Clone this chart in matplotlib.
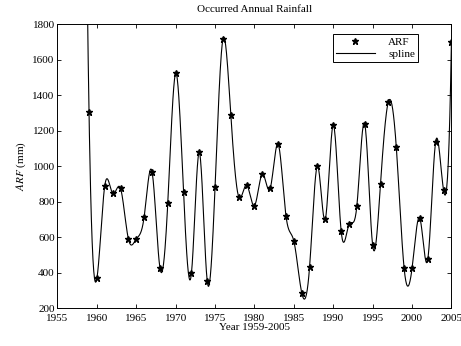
import numpy as np
import matplotlib
matplotlib.use("Agg")
import matplotlib.pyplot as plt

plt.rcParams['font.family'] = ['Liberation Serif', 'DejaVu Serif']
plt.rcParams['mathtext.fontset'] = 'stix'

# annual rainfall, 1959-2005
years = np.arange(1959, 2006)
arf = [1306, 367, 889, 846, 874, 589, 589, 714, 968, 427,
       793, 1522, 852, 395, 1077, 354, 884, 1714, 1287, 827,
       893, 776, 955, 874, 1124, 720, 577, 286, 433, 1001,
       701, 1231, 636, 671, 776, 1237, 555, 899, 1362, 1109,
       423, 423, 705, 474, 1137, 865, 1697]

xticks = [1955, 1960, 1965, 1970, 1975, 1980, 1985, 1990, 1995, 2000, 2005]
yticks = [200, 400, 600, 800, 1000, 1200, 1400, 1600, 1800]


def notaknot_spline(x, y, xx):
    # cubic spline with not-a-knot ends (unit spacing), like matlab spline()
    y = np.asarray(y, dtype=float)
    n = len(y)
    A = np.zeros((n, n))
    rhs = np.zeros(n)
    A[0, 0:3] = [1, -2, 1]
    A[-1, -3:] = [1, -2, 1]
    for i in range(1, n - 1):
        A[i, i - 1:i + 2] = [1, 4, 1]
        rhs[i] = 6 * (y[i + 1] - 2 * y[i] + y[i - 1])
    M = np.linalg.solve(A, rhs)
    idx = np.clip(np.floor(xx - x[0]).astype(int), 0, n - 2)
    t = xx - x[idx]
    b = (y[idx + 1] - y[idx]) - (2 * M[idx] + M[idx + 1]) / 6
    return y[idx] + b * t + M[idx] / 2 * t**2 + (M[idx + 1] - M[idx]) / 6 * t**3


xx = np.arange(1955, 2005.001, 0.05)
yy = notaknot_spline(years, arf, xx)

fig = plt.figure(figsize=(4.61, 3.46), dpi=100)
ax = fig.add_axes([0.1247, 0.1098, 0.8545, 0.8208])

ax.plot(years, arf, '*', color='black', markersize=4.5, label='ARF')
ax.plot(xx, yy, '-', color='black', linewidth=0.8, label='spline')

ax.set_xlim(1955, 2005)
ax.set_ylim(200, 1800)
ax.set_xticks(xticks)
ax.set_yticks(yticks)
ax.tick_params(direction='in', length=3, width=0.6, labelsize=8,
               top=True, right=True, pad=2)
ax.tick_params(axis='x', pad=4)
for s in ax.spines.values():
    s.set_linewidth(0.7)

ax.set_title('Occurred Annual Rainfall', fontsize=8, pad=9)
ax.set_xlabel('Year 1959-2005', fontsize=8, labelpad=0)
ax.set_ylabel('$ARF$ (mm)', fontsize=8, labelpad=3)

leg = ax.legend(loc='upper right', bbox_to_anchor=(0.93, 0.985), fontsize=8,
                fancybox=False, edgecolor='black', framealpha=1,
                borderpad=0.3, handlelength=3.5, handletextpad=1.2,
                labelspacing=0.2, markerfirst=True)
leg.get_frame().set_linewidth(0.7)

fig.savefig('out.png', dpi=100)
